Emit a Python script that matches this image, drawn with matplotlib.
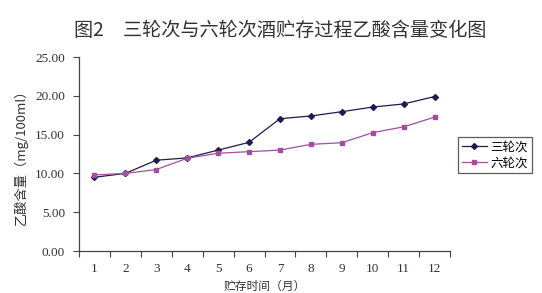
import matplotlib
matplotlib.use("Agg")
import matplotlib.pyplot as plt
import numpy as np

plt.rcParams['font.family'] = ['Noto Sans CJK SC', 'DejaVu Sans']

months = [1, 2, 3, 4, 5, 6, 7, 8, 9, 10, 11, 12]
san_lun = [9.5, 10.0, 11.7, 12.0, 13.0, 14.0, 17.05, 17.4, 17.95, 18.55, 18.95, 19.9]
liu_lun = [9.8, 10.0, 10.5, 11.95, 12.6, 12.8, 13.0, 13.75, 13.95, 15.25, 16.0, 17.25]
yticks = [0, 5, 10, 15, 20, 25]

W, H = 542, 293
fig = plt.figure(figsize=(W / 100, H / 100), dpi=100)
ax = fig.add_axes([79 / W, 1 - 251 / H, (450 - 79) / W, (251 - 57) / H])

ax.plot(months, san_lun, color='#1c1c50', marker='D', markersize=3, lw=0.9, label='三轮次')
ax.plot(months, liu_lun, color='#a34fa0', marker='s', markersize=3.5, lw=0.9, label='六轮次')

ax.set_xlim(0.5, 12.5)
ax.set_ylim(0, 25)
ax.set_xticks(months)
ax.set_xticklabels([str(m) for m in months], family=['Liberation Serif'], fontsize=9.5, color='#333333')
ax.set_xticks(np.arange(0.5, 12.6, 1), minor=True)
ax.tick_params(axis='x', which='major', length=0, pad=9)
ax.tick_params(axis='x', which='minor', length=4, direction='out', color='#444444', width=0.8)
ax.set_yticks(yticks)
ax.set_yticklabels([f"{v:.2f}" for v in yticks], family=['Liberation Serif'], fontsize=9.5, color='#333333')
ax.tick_params(axis='y', length=4, direction='out', color='#444444', width=0.8, pad=6)

for s in ['top', 'right']:
    ax.spines[s].set_visible(False)
for s in ['left', 'bottom']:
    ax.spines[s].set_color('#444444')
    ax.spines[s].set_linewidth(0.9)

ax.set_xlabel('贮存时间（月）', fontsize=8.5, color='#333333', labelpad=3)
ax.set_ylabel('乙酸含量（mg/100ml）', fontsize=9.5, color='#333333', labelpad=5)

leg = fig.legend(loc='upper left', bbox_to_anchor=(458 / W, 1 - 137 / H), frameon=True,
                 fontsize=9, handlelength=2.0, handletextpad=0.3, borderpad=0.3,
                 labelspacing=0.2, fancybox=False, borderaxespad=0)
leg.get_frame().set_edgecolor('#333333')
leg.get_frame().set_linewidth(0.9)

fig.text(280 / W, 1 - 31 / H, '图2　三轮次与六轮次酒贮存过程乙酸含量变化图', ha='center', va='center',
         fontsize=13.8, color='#333333', fontweight='medium')

fig.savefig('out.png', dpi=100)
